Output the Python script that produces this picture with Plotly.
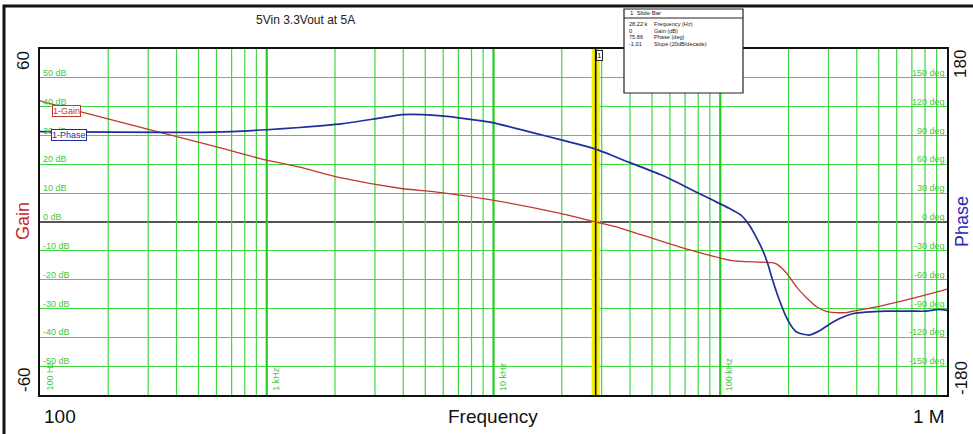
import math
import plotly.graph_objects as go

# ---------------- data ----------------
freq_gain = [100, 150, 590, 935, 1397, 2163, 3855, 5780, 9910, 19500, 28220, 35900,
             65900, 113000, 169000, 176600, 195500, 216400, 239500, 265000, 293000,
             324000, 359000, 397000, 501000, 922000, 1000000]
gain_db = [42.0, 38.3, 26.2, 22.0, 19.0, 15.2, 11.7, 10.3, 7.6, 3.1, 0.0, -2.0,
           -8.6, -13.4, -14.1, -14.5, -17.6, -22.4, -26.2, -29.3, -31.0,
           -31.4, -31.4, -30.7, -29.3, -24.1, -23.3]

freq_phase = [100, 200, 590, 1000, 1397, 2163, 3052, 3972, 4864, 6397, 8075, 9910,
              14860, 19500, 28220, 39700, 55400, 65970, 78180, 92500, 109560, 123380,
              134200, 143680, 153600, 161600, 170000, 181900, 194700, 208200, 219000,
              246700, 273000, 302100, 334400, 382700, 438400, 537000, 703300, 806000,
              922100, 1000000]
phase_deg = [94.0, 93.5, 93.5, 96.0, 98.3, 102.4, 107.6, 111.7, 111.7, 109.7, 106.5, 103.4,
             93.0, 85.9, 75.86, 62.0, 48.6, 40.0, 31.3, 22.8, 14.2, 7.2,
             -3.1, -15.2, -29.0, -42.7, -60.0, -80.7, -98.0, -110.0, -115.1,
             -117.6, -113.5, -106.6, -100.7, -95.5, -93.8, -92.8, -92.8, -92.8,
             -91.0, -92.0]

gain_ticks = [-50, -40, -30, -20, -10, 0, 10, 20, 30, 40, 50]
phase_ticks = [-150, -120, -90, -60, -30, 0, 30, 60, 90, 120, 150]
decade_freqs = [100, 1000, 10000, 100000]
decade_labels = ["100 Hz", "1 kHz", "10 kHz", "100 kHz"]

cursor_freq = 28220
cursor_values = ["28.22 k", "0", "75.86", "-1.01"]
cursor_names = ["Frequency (Hz)", "Gain (dB)", "Phase (deg)", "Slope (20dB/decade)"]

# ---------------- layout geometry ----------------
W, H = 973, 434
ML, MR, MT, MB = 40, 26, 49, 39
PW, PH = W - ML - MR, H - MT - MB


def xp(px):
    return (px - ML) / PW


def yp(py):
    return (H - MB - py) / PH


GREEN = "#3fd83f"
GREEN_MAJ = "#22cc22"
GREEN_TXT = "#44c844"
FONT = "Liberation Sans, Arial, sans-serif"

fig = go.Figure()

# vertical grid lines (log minor + decades)
minor = [m * 10 ** d for d in range(2, 6) for m in range(2, 10)]
gx, gy = [], []
for f in minor:
    gx += [f, f, None]
    gy += [-60, 60, None]
fig.add_trace(go.Scatter(x=gx, y=gy, mode="lines", line=dict(color=GREEN, width=1.2),
                         hoverinfo="skip", showlegend=False))
mx, my = [], []
for f in decade_freqs[1:]:
    mx += [f, f, None]
    my += [-60, 60, None]
fig.add_trace(go.Scatter(x=mx, y=my, mode="lines", line=dict(color=GREEN_MAJ, width=2.2),
                         hoverinfo="skip", showlegend=False))

# cursor slide bar
fig.add_trace(go.Scatter(x=[cursor_freq, cursor_freq], y=[-60, 60], mode="lines",
                         line=dict(color="#f5f000", width=8), hoverinfo="skip", showlegend=False))
fig.add_trace(go.Scatter(x=[cursor_freq, cursor_freq], y=[-60, 60], mode="lines",
                         line=dict(color="#111111", width=1.6), hoverinfo="skip", showlegend=False))

# curves
fig.add_trace(go.Scatter(x=freq_gain, y=gain_db, mode="lines", name="1-Gain",
                         line=dict(color="#c0392f", width=1.3, shape="spline", smoothing=0.6),
                         showlegend=False))
fig.add_trace(go.Scatter(x=freq_phase, y=phase_deg, mode="lines", name="1-Phase", yaxis="y2",
                         line=dict(color="#1f2f9a", width=1.7, shape="spline", smoothing=0.6),
                         showlegend=False))

ann = []
# inner gain tick labels
for v in gain_ticks:
    ann.append(dict(xref="paper", yref="y", x=xp(42), y=v, text=f"{v} dB", showarrow=False,
                    xanchor="left", yanchor="bottom", yshift=-1, borderpad=0,
                    font=dict(size=9, color=GREEN_TXT, family=FONT)))
# inner phase tick labels
for v in phase_ticks:
    ann.append(dict(xref="paper", yref="y2", x=xp(946), y=v, text=f"{v} deg", showarrow=False,
                    xanchor="right", yanchor="bottom", yshift=-1, borderpad=0,
                    font=dict(size=9, color=GREEN_TXT, family=FONT)))
# decade labels (vertical)
for f, lab in zip(decade_freqs, decade_labels):
    ann.append(dict(xref="x", yref="paper", x=math.log10(f), y=yp(393), text=lab, showarrow=False,
                    textangle=-90, xanchor="left", yanchor="bottom", xshift=2,
                    font=dict(size=9, color=GREEN_TXT, family=FONT)))

# outer axis texts
big = dict(family=FONT, size=17, color="#111111")
ann += [
    dict(xref="paper", yref="paper", x=xp(24), y=yp(61), text="60", textangle=-90, showarrow=False,
         xanchor="center", yanchor="middle", font=big),
    dict(xref="paper", yref="paper", x=xp(24), y=yp(380), text="-60", textangle=-90, showarrow=False,
         xanchor="center", yanchor="middle", font=big),
    dict(xref="paper", yref="paper", x=xp(23), y=yp(221), text="Gain", textangle=-90, showarrow=False,
         xanchor="center", yanchor="middle", font=dict(family=FONT, size=18, color="#c8282a")),
    dict(xref="paper", yref="paper", x=xp(961), y=yp(64), text="180", textangle=-90, showarrow=False,
         xanchor="center", yanchor="middle", font=big),
    dict(xref="paper", yref="paper", x=xp(961), y=yp(378), text="-180", textangle=-90, showarrow=False,
         xanchor="center", yanchor="middle", font=big),
    dict(xref="paper", yref="paper", x=xp(962), y=yp(222), text="Phase", textangle=-90, showarrow=False,
         xanchor="center", yanchor="middle", font=dict(family=FONT, size=18, color="#2a2ab4")),
    dict(xref="paper", yref="paper", x=xp(42), y=yp(417), text="100", xanchor="left", yanchor="middle",
         showarrow=False, font=dict(family=FONT, size=19, color="#111111")),
    dict(xref="paper", yref="paper", x=xp(947), y=yp(417), text="1 M", xanchor="right", yanchor="middle",
         showarrow=False, font=dict(family=FONT, size=19, color="#111111")),
    dict(xref="paper", yref="paper", x=xp(493), y=yp(417), text="Frequency", xanchor="center",
         yanchor="middle", showarrow=False, font=dict(family=FONT, size=19, color="#111111")),
    dict(xref="paper", yref="paper", x=xp(305), y=yp(20), text="5Vin 3.3Vout at 5A", xanchor="center",
         yanchor="middle", showarrow=False, font=dict(family=FONT, size=12, color="#222222")),
    # legend-like curve labels
    dict(xref="paper", yref="paper", x=xp(52), y=yp(111), text="1-Gain", xanchor="left", yanchor="middle",
         showarrow=False, bgcolor="white", bordercolor="#c0392f", borderwidth=1, borderpad=0,
         font=dict(family=FONT, size=9, color="#c0392f")),
    dict(xref="paper", yref="paper", x=xp(51), y=yp(134.5), text="1-Phase", xanchor="left", yanchor="middle",
         showarrow=False, bgcolor="white", bordercolor="#1f2f9a", borderwidth=1, borderpad=0,
         font=dict(family=FONT, size=9, color="#1f2f9a")),
    # cursor number box
    dict(xref="paper", yref="paper", x=xp(596), y=yp(55), text="1", xanchor="left", yanchor="middle",
         showarrow=False, bgcolor="white", bordercolor="#222222", borderwidth=1, borderpad=0,
         font=dict(family=FONT, size=8, color="#111111")),
    # slide bar box title
    dict(xref="paper", yref="paper", x=xp(628), y=yp(13.5), text="1  Slide Bar", xanchor="left",
         yanchor="middle", showarrow=False, font=dict(family=FONT, size=6, color="#222222")),
]
row_y = [24, 30.5, 37, 43.5]
for yy, val, name in zip(row_y, cursor_values, cursor_names):
    ann.append(dict(xref="paper", yref="paper", x=xp(628), y=yp(yy), text=val, xanchor="left",
                    yanchor="middle", showarrow=False, borderpad=0,
                    font=dict(family=FONT, size=5.6, color="#222222")))
    ann.append(dict(xref="paper", yref="paper", x=xp(653), y=yp(yy), text=name, xanchor="left",
                    yanchor="middle", showarrow=False, borderpad=0,
                    font=dict(family=FONT, size=5.6, color="#222222")))

shapes = [
    # outer frame (left & top visible)
    dict(type="rect", xref="paper", yref="paper", x0=xp(4), x1=xp(990), y0=yp(450), y1=yp(6),
         line=dict(color="#111111", width=3), fillcolor="rgba(0,0,0,0)", layer="above"),
    # slide bar info box
    dict(type="rect", xref="paper", yref="paper", x0=xp(624), x1=xp(743), y0=yp(93), y1=yp(9),
         line=dict(color="#222222", width=1.2), fillcolor="white", layer="above"),
    dict(type="line", xref="paper", yref="paper", x0=xp(624), x1=xp(743), y0=yp(18), y1=yp(18),
         line=dict(color="#222222", width=1), layer="above"),
]

fig.update_layout(
    width=W, height=H,
    margin=dict(l=ML, r=MR, t=MT, b=MB, pad=0),
    paper_bgcolor="white", plot_bgcolor="white",
    showlegend=False, hovermode=False,
    font=dict(family=FONT),
    xaxis=dict(type="log", range=[2, 6], showgrid=False, zeroline=False, showticklabels=False,
               ticks="", showline=True, linecolor="#111111", linewidth=2, mirror=True, fixedrange=True),
    yaxis=dict(range=[-60, 60], dtick=10, showgrid=True, gridcolor=GREEN, gridwidth=1.2,
               zeroline=True, zerolinecolor="#555555", zerolinewidth=1.5,
               showticklabels=False, ticks="", showline=True, linecolor="#111111", linewidth=2,
               mirror=True, fixedrange=True),
    yaxis2=dict(range=[-180, 180], overlaying="y", side="right", showgrid=False, zeroline=False,
                showticklabels=False, ticks="", fixedrange=True),
    annotations=ann,
    shapes=shapes,
)

fig.write_html("out.html")
